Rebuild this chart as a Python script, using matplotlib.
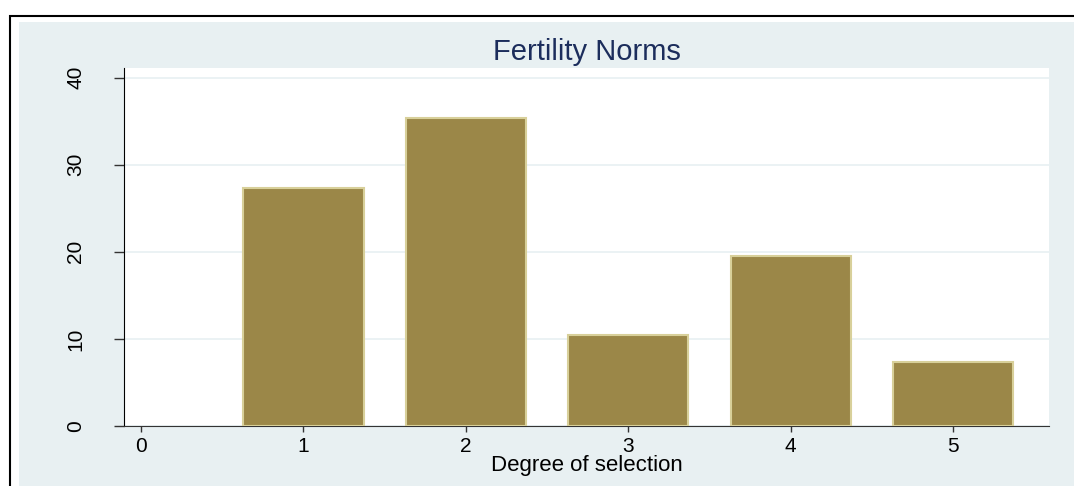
import matplotlib.pyplot as plt
from matplotlib.patches import Rectangle

plt.rcParams['font.family'] = ['Liberation Sans', 'DejaVu Sans']

# data
degree = [0, 1, 2, 3, 4, 5]
percent = [0.0, 27.3, 35.4, 10.4, 19.5, 7.3]
yticks = [0, 10, 20, 30, 40]

BG = '#e8f0f2'
BAR = '#9b8748'
BAR_EDGE = '#d8d09a'
TITLE_C = '#1c2d5c'

fig = plt.figure(figsize=(10.74, 4.86), dpi=100)
fig.patch.set_facecolor('white')

# outer frame + graph region (cropped at right/bottom in the reference)
fig.patches.append(Rectangle((10/1074, -0.1), 1.2, 1.1 - 16/486, transform=fig.transFigure,
                             facecolor='white', edgecolor='black', lw=1.5, zorder=0))
fig.patches.append(Rectangle((19/1074, -0.1), 1.2, 1.1 - 22/486, transform=fig.transFigure,
                             facecolor=BG, edgecolor='none', zorder=0.5))

ax = fig.add_axes([124/1074, 1 - 426/486, 925/1074, 358/486])
ax.set_zorder(2)
ax.set_facecolor('white')

# empty bars get no outline
lws = [1.5 if p > 0 else 0 for p in percent]
ax.bar(degree, percent, width=0.74, color=BAR, edgecolor=BAR_EDGE, linewidth=lws, zorder=3)

ax.set_xlim(-0.105, 5.59)
ax.set_ylim(0, 41.1)
ax.set_xticks(degree)
ax.set_yticks(yticks)
ax.set_yticklabels([str(t) for t in yticks], rotation=90, va='center')

ax.grid(axis='y', color=BG, lw=1.2, zorder=1)
ax.set_axisbelow(True)

for s in ['top', 'right']:
    ax.spines[s].set_visible(False)
ax.spines['left'].set_color('black')
ax.spines['bottom'].set_color('#333333')

ax.tick_params(axis='y', length=7, width=1, labelsize=15, pad=21, color='#333333')
ax.tick_params(axis='x', length=4, width=1, labelsize=15, pad=4, color='#333333')

ax.set_title('Fertility Norms', fontsize=21, color=TITLE_C, pad=6)
ax.set_xlabel('Degree of selection', fontsize=16, labelpad=-1)

plt.savefig('out.png', dpi=100)
